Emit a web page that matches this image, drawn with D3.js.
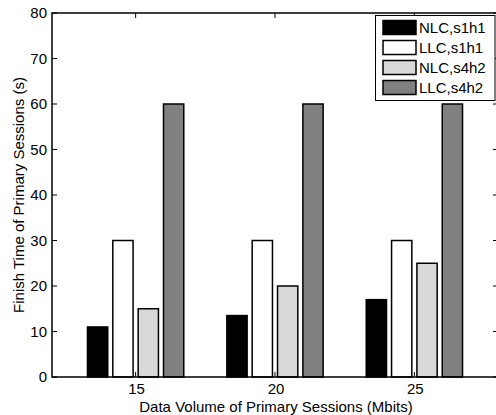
<!DOCTYPE html>
<html><head><meta charset="utf-8">
<script src="https://cdn.jsdelivr.net/npm/d3@7"></script>
<style>body{margin:0;background:#fff}svg{display:block}</style>
</head><body>
<svg id="c" width="496" height="415"></svg>
<script>
const categories = ["15", "20", "25"];
const seriesNames = ["NLC,s1h1", "LLC,s1h1", "NLC,s4h2", "LLC,s4h2"];
const nlcS1h1 = [11, 13.5, 17];
const llcS1h1 = [30, 30, 30];
const nlcS4h2 = [15, 20, 25];
const llcS4h2 = [60, 60, 60];
const yTicks = [0, 10, 20, 30, 40, 50, 60, 70, 80];
const colors = ["#000000", "#ffffff", "#d9d9d9", "#808080"];

const series = [nlcS1h1, llcS1h1, nlcS4h2, llcS4h2];
const svg = d3.select("#c");
const font = "Liberation Sans, Arial, Helvetica, sans-serif";
const L = 52, R = 498, T = 13, B = 377;
const x = d3.scaleLinear().domain([0.4, 3.6]).range([L, R]);
const y = d3.scaleLinear().domain([0, 80]).range([B, T]);

const n = series.length;
const gw = Math.min(0.8, n / (n + 1.5));
const step = gw / n;
const bw = step * 0.8;

// bars
series.forEach((s, si) => {
  svg.append("g").selectAll("rect").data(s).enter().append("rect")
    .attr("x", (d, i) => x(i + 1 - gw / 2 + step * (si + 0.5) - bw / 2))
    .attr("width", x(bw) - x(0))
    .attr("y", d => y(d))
    .attr("height", d => y(0) - y(d))
    .attr("fill", colors[si])
    .attr("stroke", "#000")
    .attr("stroke-width", 1.5);
});

// axes frame
const ax = svg.append("g").attr("stroke", "#000").attr("stroke-width", 1.5).attr("fill", "none");
ax.append("rect").attr("x", L).attr("y", T).attr("width", R - L).attr("height", B - T);

// y ticks
yTicks.forEach(t => {
  ax.append("line").attr("x1", L).attr("x2", L + 5).attr("y1", y(t)).attr("y2", y(t)).attr("stroke-width", 1);
  ax.append("line").attr("x1", R).attr("x2", R - 5).attr("y1", y(t)).attr("y2", y(t)).attr("stroke-width", 1);
  svg.append("text").attr("x", L - 5).attr("y", y(t)).attr("dy", "0.36em")
    .attr("text-anchor", "end").attr("font-family", font).attr("font-size", 15).text(t);
});
// x ticks
categories.forEach((c, i) => {
  ax.append("line").attr("x1", x(i + 1)).attr("x2", x(i + 1)).attr("y1", B).attr("y2", B - 5).attr("stroke-width", 1);
  ax.append("line").attr("x1", x(i + 1)).attr("x2", x(i + 1)).attr("y1", T).attr("y2", T + 5).attr("stroke-width", 1);
  svg.append("text").attr("x", x(i + 1) + 1).attr("y", 393.5)
    .attr("text-anchor", "middle").attr("font-family", font).attr("font-size", 15).text(c);
});

// axis labels
svg.append("text").attr("x", 276).attr("y", 411.5)
  .attr("text-anchor", "middle").attr("font-family", font).attr("font-size", 15)
  .text("Data Volume of Primary Sessions (Mbits)");
svg.append("text").attr("transform", `translate(24,${(T + B) / 2}) rotate(-90)`)
  .attr("text-anchor", "middle").attr("font-family", font).attr("font-size", 15)
  .text("Finish Time of Primary Sessions (s)");

// legend
const lg = svg.append("g");
lg.append("rect").attr("x", 375.5).attr("y", 15.5).attr("width", 119.5).attr("height", 85)
  .attr("fill", "#fff").attr("stroke", "#000").attr("stroke-width", 1);
seriesNames.forEach((nm, i) => {
  const cy = 27.5 + i * 20;
  lg.append("rect").attr("x", 383).attr("y", cy - 7).attr("width", 33).attr("height", 14)
    .attr("fill", colors[i]).attr("stroke", "#000").attr("stroke-width", 1.5);
  lg.append("text").attr("x", 419).attr("y", cy).attr("dy", "0.36em")
    .attr("font-family", font).attr("font-size", 15).text(nm);
});
</script>
</body></html>
